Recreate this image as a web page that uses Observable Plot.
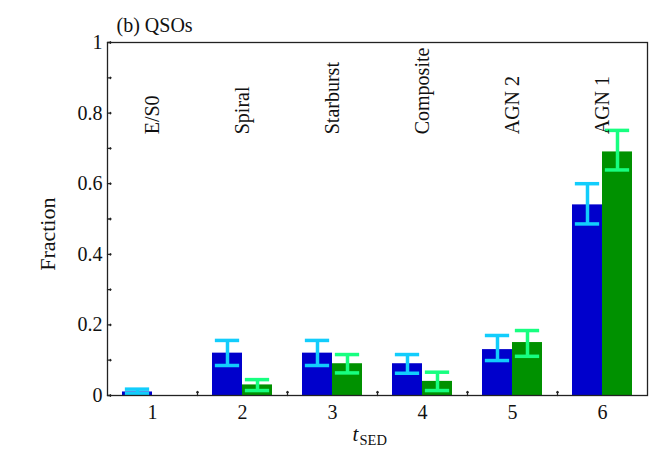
<!DOCTYPE html>
<html>
<head>
<meta charset="utf-8">
<script src="https://cdn.jsdelivr.net/npm/d3@7"></script>
<script src="https://cdn.jsdelivr.net/npm/@observablehq/plot@0.6"></script>
<style>
  html, body { margin: 0; padding: 0; background: #fff; }
  #chart svg { display: block; }
</style>
</head>
<body>
<div id="chart"></div>
<script>
// ---- data ----
const categories = [1, 2, 3, 4, 5, 6];
const typeLabels = ["E/S0", "Spiral", "Starburst", "Composite", "AGN 2", "AGN 1"];
const blueValues = [0.01, 0.12, 0.12, 0.09, 0.13, 0.54];
const blueLow    = [0.006, 0.085, 0.085, 0.063, 0.099, 0.486];
const blueHigh   = [0.018, 0.156, 0.156, 0.116, 0.170, 0.600];
const greenValues = [0, 0.03, 0.09, 0.04, 0.15, 0.69];
const greenLow    = [null, 0.014, 0.064, 0.014, 0.111, 0.639];
const greenHigh   = [null, 0.045, 0.116, 0.066, 0.184, 0.751];
const yTicks = [0, 0.2, 0.4, 0.6, 0.8, 1];
const yMinorTicks = [0.1, 0.3, 0.5, 0.7, 0.9];
const xBoundaries = [1.5, 2.5, 3.5, 4.5, 5.5];
const title = "(b) QSOs";
const yLabel = "Fraction";

// ---- styling constants ----
const blueBar = "#0000cc", blueErr = "#12cdfc";
const greenBar = "#009100", greenErr = "#17ff80";
const font = "'Liberation Serif', 'Times New Roman', serif";
const barW = 1 / 3, capHalf = 0.135, labelY = 0.74, yLabelPos = 0.457;

const rows = categories.map((c, i) => ({
  c, label: typeLabels[i],
  bv: blueValues[i], bl: blueLow[i], bh: blueHigh[i],
  gv: greenValues[i], gl: greenLow[i], gh: greenHigh[i]
}));
const gRows = rows.filter(d => d.gl != null);

const plot = Plot.plot({
  width: 667,
  height: 471,
  marginLeft: 107,
  marginRight: 20,
  marginTop: 42,
  marginBottom: 76,
  style: {fontFamily: font, fontSize: "20px", color: "#111", background: "#fff"},
  x: {type: "linear", domain: [0.5, 6.5], axis: null},
  y: {domain: [0, 1], axis: null},
  marks: [
    // bars
    Plot.rectY(rows, {x1: d => d.c - barW, x2: d => d.c, y1: 0, y2: "bv", fill: blueBar}),
    Plot.rectY(rows, {x1: d => d.c, x2: d => d.c + barW, y1: 0, y2: "gv", fill: greenBar}),
    // error bars blue
    Plot.ruleX(rows, {x: d => d.c - barW / 2, y1: "bl", y2: "bh", stroke: blueErr, strokeWidth: 3.5}),
    Plot.ruleY(rows, {y: "bl", x1: d => d.c - barW / 2 - capHalf, x2: d => d.c - barW / 2 + capHalf, stroke: blueErr, strokeWidth: 3.5}),
    Plot.ruleY(rows, {y: "bh", x1: d => d.c - barW / 2 - capHalf, x2: d => d.c - barW / 2 + capHalf, stroke: blueErr, strokeWidth: 3.5}),
    // error bars green
    Plot.ruleX(gRows, {x: d => d.c + barW / 2, y1: "gl", y2: "gh", stroke: greenErr, strokeWidth: 3.5}),
    Plot.ruleY(gRows, {y: "gl", x1: d => d.c + barW / 2 - capHalf, x2: d => d.c + barW / 2 + capHalf, stroke: greenErr, strokeWidth: 3.5}),
    Plot.ruleY(gRows, {y: "gh", x1: d => d.c + barW / 2 - capHalf, x2: d => d.c + barW / 2 + capHalf, stroke: greenErr, strokeWidth: 3.5}),
    // category labels (rotated)
    Plot.text(rows, {x: "c", y: () => labelY, text: "label", rotate: -90, textAnchor: "start", fontSize: 20, fill: "#111"}),
    // frame
    Plot.frame({stroke: "#222", strokeWidth: 1.3}),
    // inward ticks
    Plot.vector(yTicks, {y: d => d, frameAnchor: "left", rotate: 90, length: 3.5, anchor: "start", stroke: "#222", strokeWidth: 1.3}),
    Plot.vector(yMinorTicks, {y: d => d, frameAnchor: "left", rotate: 90, length: 3.5, anchor: "start", stroke: "#222", strokeWidth: 1.3}),
    Plot.vector(xBoundaries, {x: d => d, frameAnchor: "bottom", rotate: 0, length: 4, anchor: "start", stroke: "#222", strokeWidth: 1.3}),
    // tick labels
    Plot.axisY({ticks: yTicks, tickSize: 0, tickPadding: 5, tickFormat: d => String(d), fontSize: 20, label: null}),
    Plot.axisX({ticks: categories, tickSize: 0, tickPadding: 9, tickFormat: d => String(d), fontSize: 20, label: null}),
    // titles
    Plot.text([title], {frameAnchor: "top-left", text: d => d, dx: 9, dy: -11, lineAnchor: "bottom", textAnchor: "start", fontSize: 20, fill: "#111"}),
    Plot.text([yLabel], {frameAnchor: "left", y: () => yLabelPos, text: d => d, dx: -60, rotate: -90, textAnchor: "middle", lineAnchor: "middle", fontSize: 22, fill: "#111"}),
    Plot.text(["t"], {frameAnchor: "bottom", text: d => d, dx: -25, dy: 45, textAnchor: "start", lineAnchor: "bottom", fontSize: 21, fontStyle: "italic", fill: "#111"}),
    Plot.text(["SED"], {frameAnchor: "bottom", text: d => d, dx: -18, dy: 49, textAnchor: "start", lineAnchor: "bottom", fontSize: 14.5, fill: "#111"})
  ]
});
document.getElementById("chart").appendChild(plot);
</script>
</body>
</html>
